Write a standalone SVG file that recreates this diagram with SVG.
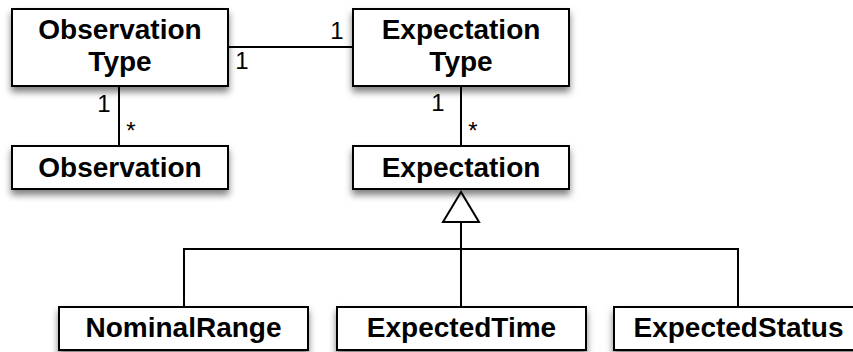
<svg xmlns="http://www.w3.org/2000/svg" width="853" height="352" viewBox="0 0 853 352">
<style>
.box{fill:#fff;stroke:#000;stroke-width:2;filter:url(#sh)}
.lbl{font-family:"Liberation Sans",Arial,sans-serif;font-weight:bold;font-size:28px;text-anchor:middle;fill:#000}
.mul{font-family:"Liberation Sans",Arial,sans-serif;font-size:24px;text-anchor:middle;fill:#000}
.ln{fill:none;stroke:#000;stroke-width:2}
</style>
<defs>
<filter id="sh" x="-10%" y="-20%" width="120%" height="150%">
<feDropShadow dx="0" dy="5" stdDeviation="3.5" flood-color="#000" flood-opacity="0.5"/>
</filter>
</defs>
<rect width="853" height="352" fill="#fff"/>
<g id="connectors">
<line class="ln" x1="228" y1="47" x2="353" y2="47"/>
<line class="ln" x1="119" y1="86" x2="119" y2="146"/>
<line class="ln" x1="461" y1="86" x2="461" y2="146"/>
<line class="ln" x1="461" y1="222" x2="461" y2="307"/>
<polyline class="ln" points="184,307 184,249 738,249 738,307"/>
<polygon points="461,192 443,222 479,222" fill="#fff" stroke="#000" stroke-width="2"/>
<text class="mul" x="337" y="39">1</text>
<text class="mul" x="242" y="69">1</text>
<text class="mul" x="104" y="112">1</text>
<text class="mul" x="131" y="139">*</text>
<text class="mul" x="438" y="111">1</text>
<text class="mul" x="473" y="139">*</text>
</g>
<g id="observation-type">
<rect class="box" x="12" y="9" width="216" height="77"/>
<text class="lbl" x="120" y="39">Observation</text>
<text class="lbl" x="120" y="71">Type</text>
</g>
<g id="observation">
<rect class="box" x="12" y="146" width="216" height="43"/>
<text class="lbl" x="120" y="177">Observation</text>
</g>
<g id="expectation-type">
<rect class="box" x="353" y="9" width="216" height="77"/>
<text class="lbl" x="461" y="39">Expectation</text>
<text class="lbl" x="461" y="71">Type</text>
</g>
<g id="expectation">
<rect class="box" x="353" y="146" width="216" height="43"/>
<text class="lbl" x="461" y="177">Expectation</text>
</g>
<g id="nominal-range">
<rect class="box" x="59" y="307" width="249" height="43"/>
<text class="lbl" x="183.5" y="337">NominalRange</text>
</g>
<g id="expected-time">
<rect class="box" x="337" y="307" width="249" height="43"/>
<text class="lbl" x="461.5" y="337">ExpectedTime</text>
</g>
<g id="expected-status">
<rect class="box" x="614" y="307" width="249" height="43"/>
<text class="lbl" x="738.5" y="337">ExpectedStatus</text>
</g>
</svg>
